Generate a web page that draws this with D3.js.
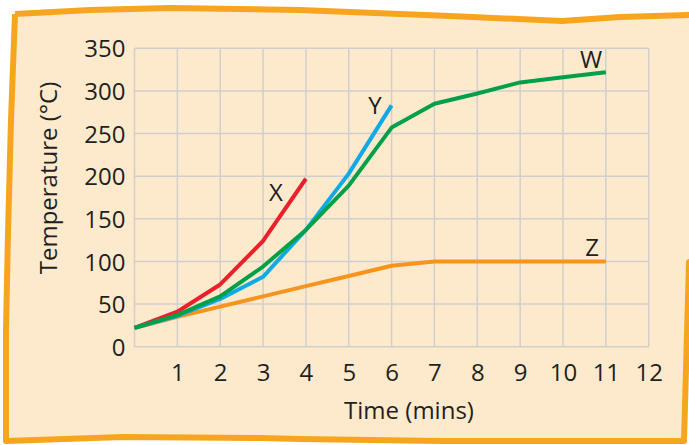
<!DOCTYPE html>
<html><head><meta charset="utf-8">
<script src="https://cdn.jsdelivr.net/npm/d3@7"></script>
<style>html,body{margin:0;padding:0;background:#fff;}svg{display:block;}</style>
</head><body>
<svg id="chart" width="689" height="445"></svg>
<script>
const timeTicks = [1,2,3,4,5,6,7,8,9,10,11,12];
const tempTicks = [0,50,100,150,200,250,300,350];
const seriesNames = ["X","Y","W","Z"];
const xTimes = [0,1,2,3,4];
const xTemps = [22,41,73,124,197];
const yTimes = [0,1,2,3,4,5,6];
const yTemps = [22,36,56,82,137,203,283];
const wTimes = [0,1,2,3,4,5,6,7,8,9,10,11];
const wTemps = [22,37,59,94,137,189,257,285,297,310,316,322];
const zTimes = [0,1,2,3,4,5,6,7,8,9,10,11];
const zTemps = [22,35,47,59,71,83,95,100,100,100,100,100];
const colors = {X:"#e8212b", Y:"#0fa9e6", W:"#00a04b", Z:"#f7941d"};

const svg = d3.select("#chart");
const font = "'Open Sans', sans-serif";
const ink = "#231f20";

// hand-drawn frame
const frame = [[15,14],[90,10],[170,8],[300,10],[450,16],[562,21],[620,17],[689,15],[695,15],[695,260],[689,262],[684,441],[560,441],[440,441],[300,439],[260,438],[123,437],[6,441],[6,330],[8,233],[11,120],[15,14]];
svg.append("path")
  .attr("d", d3.line().curve(d3.curveLinear)(frame))
  .attr("fill", "#fdeacd")
  .attr("stroke", "#f7a51f")
  .attr("stroke-width", 6)
  .attr("stroke-linejoin", "round");

const x = d3.scaleLinear().domain([0,12]).range([134.5,648.7]);
const y = d3.scaleLinear().domain([0,350]).range([346.7,48.3]);

const g = svg.append("g");
// grid
g.selectAll(".vg").data(d3.range(0,13)).join("line")
  .attr("x1", d => x(d)).attr("x2", d => x(d))
  .attr("y1", y(0)).attr("y2", y(350))
  .attr("stroke", "#d0cfcd").attr("stroke-width", 1.5);
g.selectAll(".hg").data(tempTicks).join("line")
  .attr("x1", x(0)).attr("x2", x(12))
  .attr("y1", d => y(d)).attr("y2", d => y(d))
  .attr("stroke", "#d0cfcd").attr("stroke-width", 1.5);

// axes labels via d3 axes
const yAxis = d3.axisLeft(y).tickValues(tempTicks).tickSize(0).tickPadding(9);
const ya = svg.append("g").attr("transform", `translate(${x(0)},0)`).call(yAxis);
ya.select(".domain").remove();
ya.selectAll("text").attr("font-family", font).attr("font-size", 24).attr("fill", ink).attr("dy", "0.36em");

const xAxis = d3.axisBottom(x).tickValues(timeTicks).tickSize(0).tickPadding(17);
const xa = svg.append("g").attr("transform", `translate(0,${y(0)})`).call(xAxis);
xa.select(".domain").remove();
xa.selectAll("text").attr("font-family", font).attr("font-size", 24).attr("fill", ink);

svg.append("text").attr("x", 409).attr("y", 419).attr("text-anchor", "middle")
  .attr("font-family", font).attr("font-size", 24).attr("fill", ink).text("Time (mins)");
svg.append("text").attr("transform", "translate(57,178) rotate(-90)").attr("text-anchor", "middle")
  .attr("font-family", font).attr("font-size", 24).attr("fill", ink).text("Temperature (°C)");

// lines
const line = d3.line().x(d => x(d[0])).y(d => y(d[1]));
const series = [
  {name:"Z", t:zTimes, v:zTemps},
  {name:"X", t:xTimes, v:xTemps},
  {name:"Y", t:yTimes, v:yTemps},
  {name:"W", t:wTimes, v:wTemps}
];
series.forEach(s => {
  svg.append("path").attr("d", line(s.t.map((t,i) => [t, s.v[i]])))
    .attr("fill", "none").attr("stroke", colors[s.name]).attr("stroke-width", 4)
    .attr("stroke-linejoin", "round").attr("stroke-linecap", "butt");
});

// series labels
const labelPos = {X:[276,201], Y:[375,114], W:[591,68], Z:[592,256]};
seriesNames.forEach(n => {
  svg.append("text").attr("x", labelPos[n][0]).attr("y", labelPos[n][1]).attr("text-anchor", "middle")
    .attr("font-family", font).attr("font-size", 24).attr("fill", ink).text(n);
});
</script>
</body></html>
